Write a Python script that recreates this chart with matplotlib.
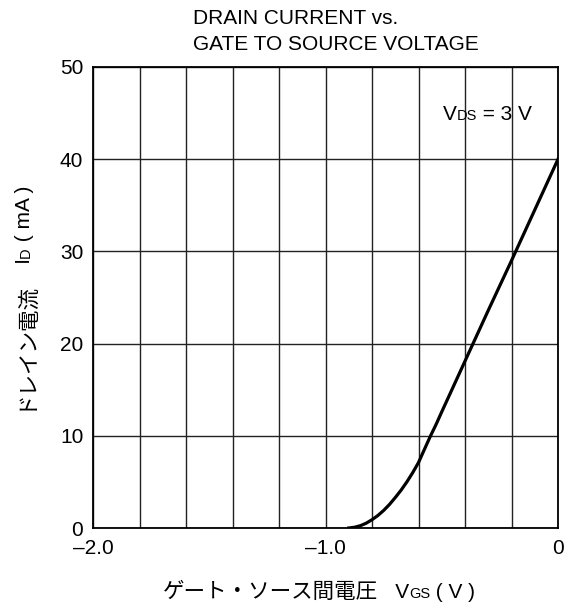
import matplotlib
matplotlib.use("Agg")
import matplotlib.pyplot as plt
from matplotlib.transforms import IdentityTransform

plt.rcParams['font.family'] = ['Liberation Sans', 'Noto Sans CJK JP']

# values (VDS = 3 V)
vgs = [-0.90, -0.875, -0.85, -0.825, -0.80, -0.775, -0.75, -0.725, -0.70,
       -0.675, -0.65, -0.625, -0.60, -0.575, -0.55, -0.525, -0.50,
       -0.40, -0.30, -0.20, -0.10, 0.0]
id_ma = [0.0, 0.08, 0.25, 0.52, 0.9, 1.35, 1.9, 2.55, 3.3,
         4.1, 5.0, 6.0, 7.1, 8.5, 9.9, 11.2, 12.6,
         18.1, 23.6, 29.0, 34.5, 40.0]

x_ticks = [-2.0, -1.0, 0.0]
x_ticklabels = ["\u20132.0", "\u20131.0", "0"]
y_ticks = [0, 10, 20, 30, 40, 50]
x_grid = [-2.0 + 0.2 * i for i in range(11)]

W, H = 565, 607
fig = plt.figure(figsize=(W / 100, H / 100), dpi=100)
ax = fig.add_axes([93 / W, 1 - 528 / H, 465 / W, 461 / H])

for gx in x_grid:
    ax.axvline(gx, color='#222222', lw=1.0, zorder=1)
for gy in y_ticks:
    ax.axhline(gy, color='#222222', lw=1.0, zorder=1)

ax.plot(vgs, id_ma, color='black', lw=2.3, zorder=3,
        solid_joinstyle='round')

ax.set_xlim(-2.0, 0.0)
ax.set_ylim(0, 50)
ax.set_xticks(x_ticks)
ax.set_xticklabels(x_ticklabels)
ax.set_yticks(y_ticks)
ax.tick_params(length=0, labelsize=15, pad=7)
ax.tick_params(axis='x', pad=8)
for s in ax.spines.values():
    s.set_linewidth(1.3)
    s.set_zorder(4)

# pixel based text chaining (for the small subscript letters)
renderer = fig.canvas.get_renderer()
ident = IdentityTransform()


def chain(pieces, x, y, vertical=False):
    # pieces: list of (text, size); x, y in pixels from bottom-left
    for txt, size in pieces:
        if vertical:
            t = fig.text(x, y, txt, fontsize=size, transform=ident,
                         rotation=90, rotation_mode='anchor',
                         ha='left', va='baseline')
            y += t.get_window_extent(renderer).height
        else:
            t = fig.text(x, y, txt, fontsize=size, transform=ident,
                         ha='left', va='baseline')
            x += t.get_window_extent(renderer).width


# title
fig.text(193 / W, 1 - 19 / H, "DRAIN CURRENT vs.", fontsize=15,
         ha='left', va='center')
fig.text(193 / W, 1 - 45 / H, "GATE TO SOURCE VOLTAGE", fontsize=15,
         ha='left', va='center')

# VDS note
chain([("V", 15), ("DS", 10.5), (" = 3 V", 15)], 443, H - 120)

# x label
chain([("ゲート・ソース間電圧", 15.5), ("   V", 15), ("GS", 10.5), (" ( V )", 15)],
      163, H - 598)

# y label
chain([("ドレイン電流", 15.5), ("   I", 15), ("D", 10.5), (" ( mA )", 15)],
      30, H - 410, vertical=True)

fig.savefig("out.png", dpi=100)
